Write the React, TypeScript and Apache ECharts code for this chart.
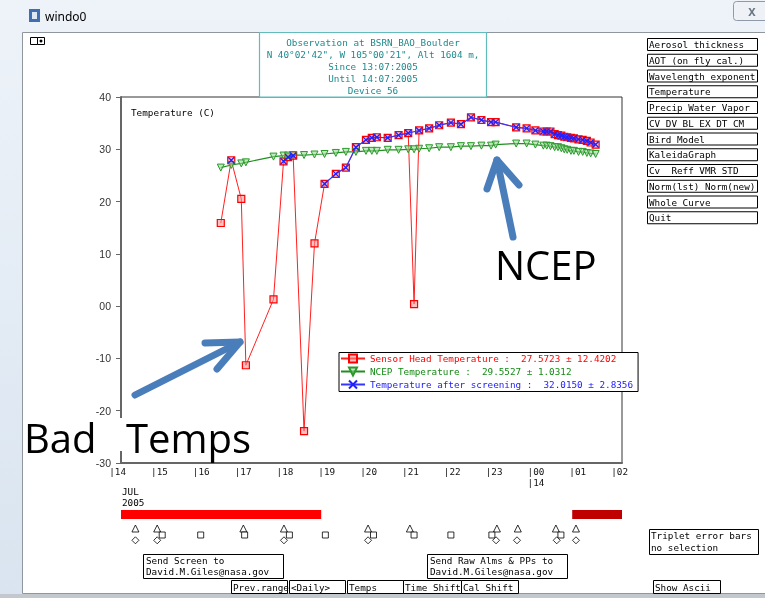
import React, { useEffect, useRef } from 'react';
import * as echarts from 'echarts';

// ---- data (hours of 13 Jul 2005, local; 24+ = 14 Jul) ----
const times = [16.60, 16.85, 17.09, 17.20, 17.86, 18.10, 18.21, 18.33, 18.59, 18.84, 19.08, 19.35, 19.59, 19.83, 20.07, 20.21, 20.33, 20.59, 20.85, 21.08, 21.22, 21.34, 21.58, 21.82, 22.10, 22.34, 22.58, 22.83, 23.06, 23.17, 23.66, 23.91, 24.12, 24.31, 24.39, 24.48, 24.58, 24.66, 24.74, 24.81, 24.88, 24.97, 25.04, 25.15, 25.25, 25.35, 25.44, 25.56];
const sensorHead = [15.9, 27.9, 20.5, -11.3, 1.3, 27.7, 28.5, 28.8, -23.9, 12.0, 23.4, 25.3, 26.5, 30.4, 31.8, 32.2, 32.3, 32.2, 32.7, 33.1, 0.4, 33.6, 34.0, 34.6, 35.1, 34.8, 36.1, 35.6, 35.2, 35.2, 34.2, 34.0, 33.6, 33.4, 33.4, 33.4, 32.9, 32.7, 32.6, 32.4, 32.3, 32.2, 32.1, 31.9, 31.8, 31.6, 31.3, 30.9];
const ncep = [26.5, 27.0, 27.3, 27.5, 28.6, 28.8, 28.8, 28.9, 28.9, 29.0, 29.1, 29.3, 29.5, 29.5, 29.7, 29.7, 29.7, 29.9, 29.9, 30.0, 30.0, 30.1, 30.2, 30.4, 30.4, 30.6, 30.6, 30.7, 30.7, 30.9, 31.1, 31.1, 30.9, 30.7, 30.7, 30.6, 30.4, 30.4, 30.2, 30.0, 29.9, 29.7, 29.7, 29.5, 29.5, 29.3, 29.2, 29.1];
const screened = [null, 27.9, null, null, null, 27.7, 28.5, 28.8, null, null, 23.4, 25.3, 26.5, 30.4, 31.8, 32.2, 32.3, 32.2, 32.7, 33.1, null, 33.6, 34.0, 34.6, 35.1, 34.8, 36.1, 35.6, 35.2, 35.2, 34.2, 34.0, 33.6, 33.4, 33.4, 33.4, 32.9, 32.7, 32.6, 32.4, 32.3, 32.2, 32.1, 31.9, 31.8, 31.6, 31.3, 30.9];

const seriesNames = ['Sensor Head Temperature', 'NCEP Temperature', 'Temperature after screening'];
const seriesMeans = ['27.5723', '29.5527', '32.0150'];
const seriesSds = ['12.4202', '1.0312', '2.8356'];

const xTickLabels = ['14', '15', '16', '17', '18', '19', '20', '21', '22', '23', '00\n14', '01', '02'];
const yTickLabels = ['-30', '-20', '-10', '00', '10', '20', '30', '40'];

const coverageStart = [14.2, 25.0];
const coverageEnd = [19.0, 26.2];
const triangleTimes = [14.56, 15.08, 17.14, 18.11, 20.12, 21.12, 23.20, 23.70, 24.61, 25.09];
const squareTimes = [15.20, 16.12, 17.17, 18.24, 19.10, 20.25, 21.22, 22.10, 23.08, 24.73];
const diamondTimes = [14.56, 15.08, 18.11, 20.12, 23.18, 23.68, 24.63, 25.09];

const titleLines = ['Observation at BSRN_BAO_Boulder', 'N 40°02\'42", W 105°00\'21", Alt 1604 m,', 'Since 13:07:2005', 'Until 14:07:2005', 'Device 56'];
const menuItems = ['Aerosol thickness', 'AOT (on fly cal.)', 'Wavelength exponent', 'Temperature', 'Precip Water Vapor', 'CV DV BL EX DT CM', 'Bird Model', 'KaleidaGraph', 'Cv  Reff VMR STD', 'Norm(lst) Norm(new)', 'Whole Curve', 'Quit'];

// ---- layout / style ----
const MONO = '"DejaVu Sans Mono", "Liberation Mono", monospace';
const FS = 9.3;
const XMIN = 14.215;
const XMAX = 26.19;
const coverageColors = ['#ff0000', '#c00000'];
const ARROW = '#4a7ebb';

function txt(x: number, y: number, text: string, color = '#000', extra: any = {}) {
  return {
    type: 'text', z: 60, silent: true,
    style: { x, y, text, fill: color, font: `${FS}px ${MONO}`, align: 'left', verticalAlign: 'middle', ...extra },
  };
}
function box(x: number, y: number, w: number, h: number, stroke = '#000', fill = '#fff', z = 55) {
  return { type: 'rect', z, silent: true, shape: { x: x + 0.5, y: y + 0.5, width: w, height: h }, style: { fill, stroke, lineWidth: 1 } };
}

export default function App() {
  const ref = useRef<HTMLDivElement>(null);
  useEffect(() => {
    if (!ref.current) return;
    const chart = echarts.init(ref.current, undefined, { renderer: 'svg' });

    // blue series: retained points, broken across long gaps
    const blueData: any[] = [];
    let prevT: number | null = null;
    times.forEach((t, i) => {
      const v = screened[i];
      if (v == null) return;
      if (prevT !== null && t - prevT > 0.6) blueData.push([t, '-']);
      blueData.push([t, v]);
      prevT = t;
    });

    const G: any[] = [];
    // window chrome
    G.push({ type: 'rect', z: -20, silent: true, shape: { x: 0, y: 0, width: 765, height: 598 },
      style: { fill: { type: 'linear', x: 0, y: 0, x2: 0, y2: 1, colorStops: [{ offset: 0, color: '#eef3f9' }, { offset: 1, color: '#d9e4f0' }] } } });
    G.push({ type: 'rect', z: -19, silent: true, shape: { x: 22.5, y: 32.5, width: 760, height: 561 }, style: { fill: '#ffffff', stroke: '#8f969e', lineWidth: 1 } });
    G.push({ type: 'rect', z: -19, silent: true, shape: { x: 0, y: 594, width: 765, height: 4 }, style: { fill: '#c3c8ce' } });
    G.push({ type: 'rect', z: -18, silent: true, shape: { x: 29, y: 9, width: 11, height: 13 }, style: { fill: '#3f6fb2' } });
    G.push({ type: 'rect', z: -18, silent: true, shape: { x: 32, y: 12, width: 5, height: 7 }, style: { fill: '#dfe9f6' } });
    G.push({ type: 'text', z: -18, silent: true, style: { x: 45, y: 16, text: 'windo0', fill: '#000', font: '12px "Noto Sans"', verticalAlign: 'middle' } });
    G.push({ type: 'rect', z: -18, silent: true, shape: { x: 733.5, y: 1.5, width: 40, height: 19, r: 3 }, style: { fill: '#eef2f7', stroke: '#8e9aaa', lineWidth: 1 } });
    G.push({ type: 'text', z: -17, silent: true, style: { x: 752, y: 11, text: 'X', fill: '#6a7480', font: 'bold 11px "Noto Sans"', align: 'center', verticalAlign: 'middle' } });
    G.push(box(30, 37, 7, 7));
    G.push(box(37, 37, 7, 7));
    G.push({ type: 'circle', z: 56, silent: true, shape: { cx: 41, cy: 41, r: 1.5 }, style: { fill: '#000' } });

    // title box
    G.push({ type: 'rect', z: 55, silent: true, shape: { x: 259.5, y: 32.5, width: 227, height: 64.5 }, style: { fill: '#fff', stroke: '#63bcbc', lineWidth: 1.2 } });
    titleLines.forEach((l, i) => G.push(txt(373, 42.5 + i * 12, l, '#1f8a8f', { align: 'center' })));

    // right menu
    menuItems.forEach((m, i) => {
      const y = 38 + i * 15.75;
      G.push(box(647, y, 110, 12));
      G.push(txt(649, y + 6.5, m));
    });

    // plot label
    G.push(txt(131, 112, 'Temperature (C)', '#000'));

    // bottom texts / buttons
    G.push(txt(122, 491, 'JUL'));
    G.push(txt(122, 502, '2005'));
    G.push(box(143, 554, 140, 24));
    G.push(txt(146, 560, 'Send Screen to'));
    G.push(txt(146, 571.5, 'David.M.Giles@nasa.gov'));
    G.push(box(427, 554, 140, 24));
    G.push(txt(430, 560, 'Send Raw Alms & PPs to'));
    G.push(txt(430, 571.5, 'David.M.Giles@nasa.gov'));
    G.push(box(649, 529, 109, 25));
    G.push(txt(651, 535.5, 'Triplet error bars'));
    G.push(txt(651, 547, 'no selection'));
    const buttons: [string, number, number][] = [['Prev.range', 231, 56], ['<Daily>', 289, 56], ['Temps', 347, 56], ['Time Shift', 403, 58], ['Cal Shift', 461, 57], ['Show Ascii', 653, 67]];
    buttons.forEach(([b, x, w]) => { G.push(box(x, 580, w, 13)); G.push(txt(x + 2, 587, b)); });

    // annotations
    G.push({ type: 'rect', z: 70, silent: true, shape: { x: 24, y: 418, width: 228, height: 33 }, style: { fill: '#fff' } });
    G.push({ type: 'text', z: 71, silent: true, style: { x: 24, y: 437, text: 'Bad', fill: '#000', font: '40px "Open Sans"', verticalAlign: 'middle' } });
    G.push({ type: 'text', z: 71, silent: true, style: { x: 126, y: 437, text: 'Temps', fill: '#000', font: '40px "Open Sans"', verticalAlign: 'middle' } });
    G.push({ type: 'text', z: 71, silent: true, style: { x: 495, y: 264, text: 'NCEP', fill: '#000', font: '40px "Open Sans"', verticalAlign: 'middle' } });
    const arrowStyle = { stroke: ARROW, lineWidth: 7, fill: 'none', lineCap: 'round', lineJoin: 'round' };
    G.push({ type: 'polyline', z: 72, silent: true, shape: { points: [[135, 395], [240, 342]] }, style: arrowStyle });
    G.push({ type: 'polyline', z: 72, silent: true, shape: { points: [[205, 343], [240, 342], [217, 369]] }, style: arrowStyle });
    G.push({ type: 'polyline', z: 72, silent: true, shape: { points: [[513, 237], [497, 160]] }, style: arrowStyle });
    G.push({ type: 'polyline', z: 72, silent: true, shape: { points: [[487, 189], [497, 160], [519, 185]] }, style: arrowStyle });

    const option: any = {
      animation: false,
      textStyle: { fontFamily: MONO },
      grid: [
        { left: 121, top: 97, width: 501, height: 366, show: true, borderColor: '#333', borderWidth: 1, backgroundColor: 'transparent' },
        { left: 109.2, top: 97, width: 502, height: 366, show: false },
        { left: 121, top: 505, width: 501, height: 40, show: false },
      ],
      xAxis: [
        { gridIndex: 0, type: 'value', min: XMIN, max: XMAX, axisLine: { show: true, onZero: false, lineStyle: { color: '#666', width: 2 } }, axisTick: { show: false }, axisLabel: { show: false }, splitLine: { show: false } },
        { gridIndex: 1, type: 'value', min: 14, max: 26, interval: 1, axisLine: { show: false }, axisTick: { show: false }, splitLine: { show: false },
          axisLabel: { show: true, showMinLabel: true, showMaxLabel: true, hideOverlap: false, margin: 3, align: 'left', verticalAlign: 'top', lineHeight: 11,
            fontFamily: MONO, fontSize: FS, color: '#111',
            formatter: (v: number) => '|' + xTickLabels[Math.round(v - 14)].replace('\n', '\n|') } },
        { gridIndex: 2, type: 'value', min: XMIN, max: XMAX, show: false },
      ],
      yAxis: [
        { gridIndex: 0, type: 'value', min: -30, max: 40, interval: 10,
          axisLine: { show: true, onZero: false, lineStyle: { color: '#666', width: 2 } },
          axisTick: { show: true, length: 5, lineStyle: { color: '#666' } },
          splitLine: { show: false },
          axisLabel: { margin: 10, fontFamily: '"Liberation Sans", Arial, sans-serif', fontSize: 10.5, color: '#333', showMinLabel: true, showMaxLabel: true,
            formatter: (v: number) => yTickLabels[Math.round((v + 30) / 10)] } },
        { gridIndex: 1, type: 'value', min: 0, max: 1, show: false },
        { gridIndex: 2, type: 'value', min: 0, max: 40, inverse: true, show: false },
      ],
      legend: {
        left: 339, top: 352.5, orient: 'vertical', itemWidth: 24, itemHeight: 10, itemGap: 1,
        padding: [0, 5, 1, 1], borderColor: '#000', borderWidth: 1, backgroundColor: '#fff', selectedMode: false,
        textStyle: { fontFamily: MONO, fontSize: FS, lineHeight: 12 },
        data: [
          { name: seriesNames[0], textStyle: { color: '#ff0000' } },
          { name: seriesNames[1], textStyle: { color: '#138a13' } },
          { name: seriesNames[2], textStyle: { color: '#1a1aff' } },
        ],
        formatter: (name: string) => {
          const i = seriesNames.indexOf(name);
          return `${name} :\u00a0\u00a0${seriesMeans[i]} ± ${seriesSds[i]}`;
        },
      },
      graphic: { elements: G },
      series: [
        { name: seriesNames[0], type: 'line', xAxisIndex: 0, yAxisIndex: 0, z: 3,
          data: times.map((t, i) => [t, sensorHead[i]]),
          symbol: 'rect', symbolSize: 7, showAllSymbol: true,
          lineStyle: { color: '#ff2020', width: 1 },
          itemStyle: { color: 'rgba(255,140,140,0.55)', borderColor: '#ff0000', borderWidth: 1.2 } },
        { name: seriesNames[1], type: 'line', xAxisIndex: 0, yAxisIndex: 0, z: 4,
          data: times.map((t, i) => [t, ncep[i]]),
          symbol: 'triangle', symbolRotate: 180, symbolSize: 7, showAllSymbol: true,
          lineStyle: { color: '#1f8f1f', width: 1.2 },
          itemStyle: { color: 'rgba(150,215,150,0.6)', borderColor: '#2a9a2a', borderWidth: 1 } },
        { name: seriesNames[2], type: 'line', xAxisIndex: 0, yAxisIndex: 0, z: 5,
          data: blueData, connectNulls: false,
          symbol: 'path://M0,0L10,10M10,0L0,10', symbolSize: 6, showAllSymbol: true,
          lineStyle: { color: '#3535ff', width: 1.2 },
          itemStyle: { color: '#2020ff', borderColor: '#2020ff', borderWidth: 1.3 } },
        { type: 'custom', xAxisIndex: 2, yAxisIndex: 2, silent: true,
          data: coverageStart.map((s, i) => [s, coverageEnd[i], i]),
          renderItem: (params: any, api: any) => {
            const s = api.coord([api.value(0), 0]);
            const e = api.coord([api.value(1), 0]);
            const cs = params.coordSys;
            const x0 = Math.max(s[0], cs.x);
            const x1 = Math.min(e[0], cs.x + cs.width);
            return { type: 'rect', shape: { x: x0, y: cs.y + 5, width: x1 - x0, height: 9 }, style: { fill: coverageColors[api.value(2)] } };
          } },
        { type: 'scatter', xAxisIndex: 2, yAxisIndex: 2, silent: true, data: triangleTimes.map((t) => [t, 23.5]),
          symbol: 'triangle', symbolSize: 7, itemStyle: { color: '#fff', borderColor: '#000', borderWidth: 1 } },
        { type: 'scatter', xAxisIndex: 2, yAxisIndex: 2, silent: true, data: squareTimes.map((t) => [t, 30]),
          symbol: 'rect', symbolSize: 6, itemStyle: { color: '#fff', borderColor: '#000', borderWidth: 1 } },
        { type: 'scatter', xAxisIndex: 2, yAxisIndex: 2, silent: true, data: diamondTimes.map((t) => [t, 35.3]),
          symbol: 'diamond', symbolSize: 7, itemStyle: { color: '#fff', borderColor: '#000', borderWidth: 1 } },
      ],
    };
    chart.setOption(option);
    return () => chart.dispose();
  }, []);
  return <div ref={ref} style={{ position: 'fixed', left: 0, top: 0, width: 765, height: 598 }} />;
}
